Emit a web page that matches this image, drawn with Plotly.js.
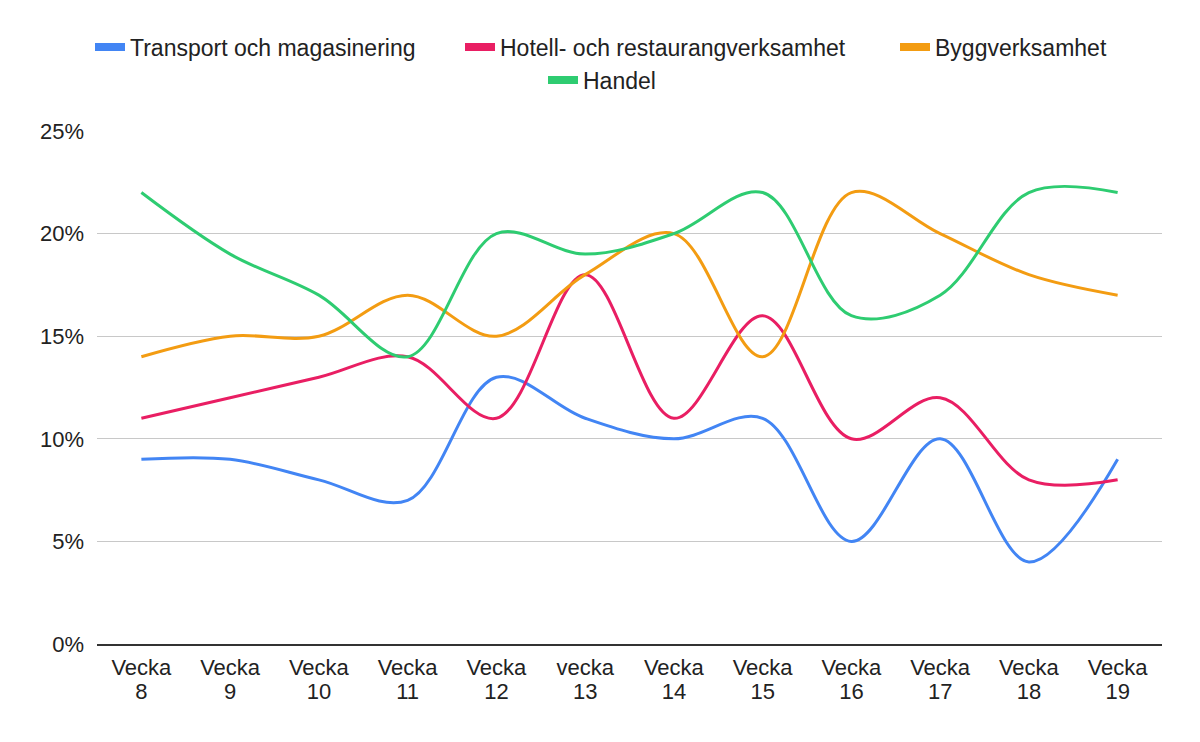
<!DOCTYPE html>
<html>
<head>
<meta charset="utf-8">
<script src="https://cdn.plot.ly/plotly-3.0.1.min.js"></script>
<style>html,body{margin:0;padding:0;background:#fff;}#chart{width:1200px;height:742px;}</style>
</head>
<body>
<div id="chart"></div>
<script>
const weekWord = ["Vecka","Vecka","Vecka","Vecka","Vecka","vecka","Vecka","Vecka","Vecka","Vecka","Vecka","Vecka"];
const weekNum = ["8","9","10","11","12","13","14","15","16","17","18","19"];
const seriesNames = ["Transport och magasinering","Hotell- och restaurangverksamhet","Byggverksamhet","Handel"];
const transport = [0.09,0.09,0.08,0.07,0.13,0.11,0.10,0.11,0.05,0.10,0.04,0.09];
const hotell = [0.11,0.12,0.13,0.14,0.11,0.18,0.11,0.16,0.10,0.12,0.08,0.08];
const bygg = [0.14,0.15,0.15,0.17,0.15,0.18,0.20,0.14,0.22,0.20,0.18,0.17];
const handel = [0.22,0.19,0.17,0.14,0.20,0.19,0.20,0.22,0.16,0.17,0.22,0.22];
const yTicks = [0,0.05,0.10,0.15,0.20,0.25];
const yTickText = ["0%","5%","10%","15%","20%","25%"];

const colors = ["#4285F4","#E91E63","#F39C12","#2ECC71"];
const values = [transport, hotell, bygg, handel];
const legendIds = ["legend","legend2","legend3","legend4"];
const x = weekNum.map((w,i)=>i);

const data = [];
values.forEach((y,k)=>{
  data.push({type:'scatter', mode:'lines', name:seriesNames[k], x, y, showlegend:false,
    line:{color:colors[k], width:3, shape:'spline', smoothing:1}, hoverinfo:'skip'});
});
// legend-only entries (thick swatches)
values.forEach((y,k)=>{
  data.push({type:'scatter', mode:'lines', name:seriesNames[k], x:[null], y:[null],
    legend:legendIds[k], showlegend:true, line:{color:colors[k], width:8}, hoverinfo:'skip'});
});
// second tick row (numbers) via overlaid axis
data.push({type:'scatter', mode:'lines', x, y:transport, xaxis:'x2', showlegend:false,
  line:{width:0, color:'rgba(0,0,0,0)'}, hoverinfo:'skip'});

const font = {family:"Arial, 'Liberation Sans', sans-serif", size:22, color:"#222"};
const legFont = {family:"Arial, 'Liberation Sans', sans-serif", size:23, color:"#222"};
function leg(px, py){
  return {orientation:'h', xref:'container', yref:'container', x:px/1200, xanchor:'left',
    y:1-py/742, yanchor:'middle', font:legFont, bgcolor:'rgba(0,0,0,0)', itemwidth:30};
}
const layout = {
  width:1200, height:742,
  margin:{l:97, r:38, t:131, b:98},
  paper_bgcolor:'#fff', plot_bgcolor:'#fff',
  font:font,
  showlegend:true,
  legend:leg(90,47), legend2:leg(460,47), legend3:leg(895,47), legend4:leg(543,80),
  xaxis:{tickmode:'array', tickvals:x, ticktext:weekWord, range:[-0.5,11.5],
    showgrid:false, zeroline:false, showline:true, linecolor:'#333', linewidth:2,
    ticks:'', tickfont:font, ticklabelstandoff:3, fixedrange:true},
  xaxis2:{overlaying:'x', matches:'x', side:'bottom', anchor:'y', tickmode:'array', tickvals:x, ticktext:weekNum,
    range:[-0.5,11.5], showgrid:false, zeroline:false, showline:false,
    ticks:'', tickfont:font, ticklabelstandoff:32, fixedrange:true},
  yaxis:{range:[0,0.25], tickmode:'array', tickvals:yTicks, ticktext:yTickText,
    showgrid:true, gridcolor:'#c8c8c8', gridwidth:1.3, zeroline:false, showline:false,
    ticks:'', tickfont:font, ticklabelstandoff:12, fixedrange:true}
};
Plotly.newPlot('chart', data, layout, {staticPlot:true, displayModeBar:false});
</script>
</body>
</html>
